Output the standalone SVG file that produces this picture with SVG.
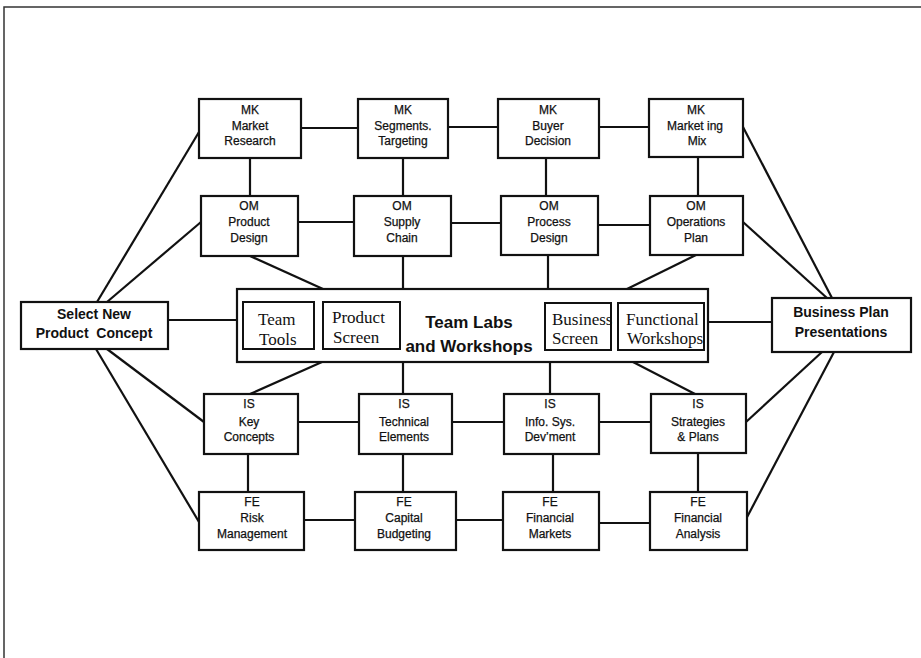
<svg xmlns="http://www.w3.org/2000/svg" width="921" height="658" viewBox="0 0 921 658">
<style>
.box{fill:#fff;stroke:#111;stroke-width:2.2}
.inner{fill:#fff;stroke:#111;stroke-width:2}
.t{font-family:"Liberation Sans",Arial,sans-serif;font-size:12px;fill:#111;text-anchor:middle;stroke:#111;stroke-width:0.25}
.b{font-family:"Liberation Sans",Arial,sans-serif;font-size:14px;font-weight:bold;fill:#111;text-anchor:middle}
.big{font-family:"Liberation Sans",Arial,sans-serif;font-size:17px;font-weight:bold;fill:#111;text-anchor:middle}
.s{font-family:"Liberation Serif","Times New Roman",serif;font-size:17px;fill:#111}
.c line{stroke:#111;stroke-width:2.2;fill:none}
</style>
<rect width="921" height="658" fill="#fff"/>
<g id="frame"><polyline points="4,658 4,7 921,7" fill="none" stroke="#333" stroke-width="1.5"/></g>

<g id="connectors" class="c">
<line x1="301" y1="128" x2="358" y2="128"/>
<line x1="448" y1="127" x2="498" y2="127"/>
<line x1="599" y1="127" x2="649" y2="127"/>
<line x1="250" y1="158" x2="250" y2="196"/>
<line x1="403" y1="158" x2="403" y2="196"/>
<line x1="546" y1="158" x2="546" y2="196"/>
<line x1="698" y1="157" x2="698" y2="196"/>
<line x1="298" y1="222" x2="354" y2="222"/>
<line x1="451" y1="223" x2="501" y2="223"/>
<line x1="598" y1="225" x2="650" y2="225"/>
<line x1="250" y1="256" x2="323" y2="289"/>
<line x1="403" y1="256" x2="403" y2="289"/>
<line x1="548" y1="255" x2="548" y2="289"/>
<line x1="696" y1="255" x2="627" y2="289"/>
<line x1="322" y1="362" x2="250" y2="394"/>
<line x1="403" y1="362" x2="403" y2="394"/>
<line x1="550" y1="362" x2="550" y2="394"/>
<line x1="633" y1="362" x2="695" y2="394"/>
<line x1="298" y1="422" x2="359" y2="422"/>
<line x1="452" y1="422" x2="504" y2="422"/>
<line x1="599" y1="422" x2="651" y2="422"/>
<line x1="248" y1="454" x2="248" y2="492"/>
<line x1="403" y1="454" x2="403" y2="492"/>
<line x1="553" y1="454" x2="553" y2="492"/>
<line x1="698" y1="453" x2="698" y2="492"/>
<line x1="304" y1="520" x2="355" y2="520"/>
<line x1="456" y1="520" x2="503" y2="520"/>
<line x1="599" y1="523" x2="650" y2="523"/>
<line x1="97" y1="302" x2="199" y2="132"/>
<line x1="107" y1="302" x2="201" y2="222"/>
<line x1="168" y1="320" x2="237" y2="320"/>
<line x1="96" y1="349" x2="199" y2="522"/>
<line x1="107" y1="349" x2="204" y2="422"/>
<line x1="743" y1="127" x2="832" y2="298"/>
<line x1="743" y1="222" x2="827" y2="298"/>
<line x1="708" y1="322" x2="772" y2="322"/>
<line x1="822" y1="352" x2="746" y2="422"/>
<line x1="834" y1="352" x2="745" y2="521"/>
</g>

<g id="mk-market-research"><rect class="box" x="199" y="99" width="102" height="59"/>
<text class="t" x="250" y="114">MK</text><text class="t" x="250" y="130">Market</text><text class="t" x="250" y="145">Research</text></g>
<g id="mk-segments"><rect class="box" x="358" y="99" width="90" height="59"/>
<text class="t" x="403" y="114">MK</text><text class="t" x="403" y="130">Segments.</text><text class="t" x="403" y="145">Targeting</text></g>
<g id="mk-buyer"><rect class="box" x="498" y="99" width="101" height="59"/>
<text class="t" x="548" y="114">MK</text><text class="t" x="548" y="130">Buyer</text><text class="t" x="548" y="145">Decision</text></g>
<g id="mk-mix"><rect class="box" x="649" y="99" width="94" height="58"/>
<text class="t" x="696" y="114">MK</text><text class="t" x="695" y="130">Market ing</text><text class="t" x="697" y="145">Mix</text></g>

<g id="om-product"><rect class="box" x="201" y="196" width="97" height="60"/>
<text class="t" x="249" y="210">OM</text><text class="t" x="249" y="226">Product</text><text class="t" x="249" y="242">Design</text></g>
<g id="om-supply"><rect class="box" x="354" y="196" width="97" height="60"/>
<text class="t" x="402" y="210">OM</text><text class="t" x="402" y="226">Supply</text><text class="t" x="402" y="242">Chain</text></g>
<g id="om-process"><rect class="box" x="501" y="196" width="97" height="59"/>
<text class="t" x="549" y="210">OM</text><text class="t" x="549" y="226">Process</text><text class="t" x="549" y="242">Design</text></g>
<g id="om-operations"><rect class="box" x="650" y="196" width="93" height="59"/>
<text class="t" x="696" y="210">OM</text><text class="t" x="696" y="226">Operations</text><text class="t" x="696" y="242">Plan</text></g>

<g id="select-concept"><rect class="box" x="21" y="302" width="147" height="47"/>
<text class="b" x="94" y="319">Select New</text><text class="b" x="94" y="338" xml:space="preserve">Product  Concept</text></g>

<g id="team-labs"><rect class="box" x="237" y="289" width="471" height="73"/>
<text class="big" x="469" y="328">Team Labs</text><text class="big" x="469" y="352">and Workshops</text>
<rect class="inner" x="243" y="302" width="71" height="47"/>
<text class="s" x="258" y="325">Team</text><text class="s" x="259" y="345">Tools</text>
<rect class="inner" x="323" y="302" width="77" height="47"/>
<text class="s" x="332" y="323">Product</text><text class="s" x="333" y="343">Screen</text>
<rect class="inner" x="545" y="303" width="66" height="47"/>
<text class="s" x="552" y="325">Business</text><text class="s" x="552" y="344">Screen</text>
<rect class="inner" x="618" y="303" width="86" height="47"/>
<text class="s" x="626" y="325">Functional</text><text class="s" x="627" y="344">Workshops</text></g>

<g id="business-plan"><rect class="box" x="772" y="298" width="139" height="54"/>
<text class="b" x="841" y="317">Business Plan</text><text class="b" x="841" y="337">Presentations</text></g>

<g id="is-key"><rect class="box" x="204" y="394" width="94" height="60"/>
<text class="t" x="249" y="408">IS</text><text class="t" x="249" y="426">Key</text><text class="t" x="249" y="441">Concepts</text></g>
<g id="is-technical"><rect class="box" x="359" y="394" width="93" height="60"/>
<text class="t" x="404" y="408">IS</text><text class="t" x="404" y="426">Technical</text><text class="t" x="404" y="441">Elements</text></g>
<g id="is-info"><rect class="box" x="504" y="394" width="95" height="60"/>
<text class="t" x="550" y="408">IS</text><text class="t" x="550" y="426">Info. Sys.</text><text class="t" x="550" y="441">Dev’ment</text></g>
<g id="is-strategies"><rect class="box" x="651" y="394" width="95" height="59"/>
<text class="t" x="698" y="408">IS</text><text class="t" x="698" y="426">Strategies</text><text class="t" x="698" y="441">&amp; Plans</text></g>

<g id="fe-risk"><rect class="box" x="199" y="492" width="105" height="58"/>
<text class="t" x="252" y="506">FE</text><text class="t" x="252" y="522">Risk</text><text class="t" x="252" y="538">Management</text></g>
<g id="fe-capital"><rect class="box" x="355" y="492" width="101" height="58"/>
<text class="t" x="404" y="506">FE</text><text class="t" x="404" y="522">Capital</text><text class="t" x="404" y="538">Budgeting</text></g>
<g id="fe-markets"><rect class="box" x="503" y="492" width="96" height="58"/>
<text class="t" x="550" y="506">FE</text><text class="t" x="550" y="522">Financial</text><text class="t" x="550" y="538">Markets</text></g>
<g id="fe-analysis"><rect class="box" x="650" y="492" width="97" height="58"/>
<text class="t" x="698" y="506">FE</text><text class="t" x="698" y="522">Financial</text><text class="t" x="698" y="538">Analysis</text></g>
</svg>
